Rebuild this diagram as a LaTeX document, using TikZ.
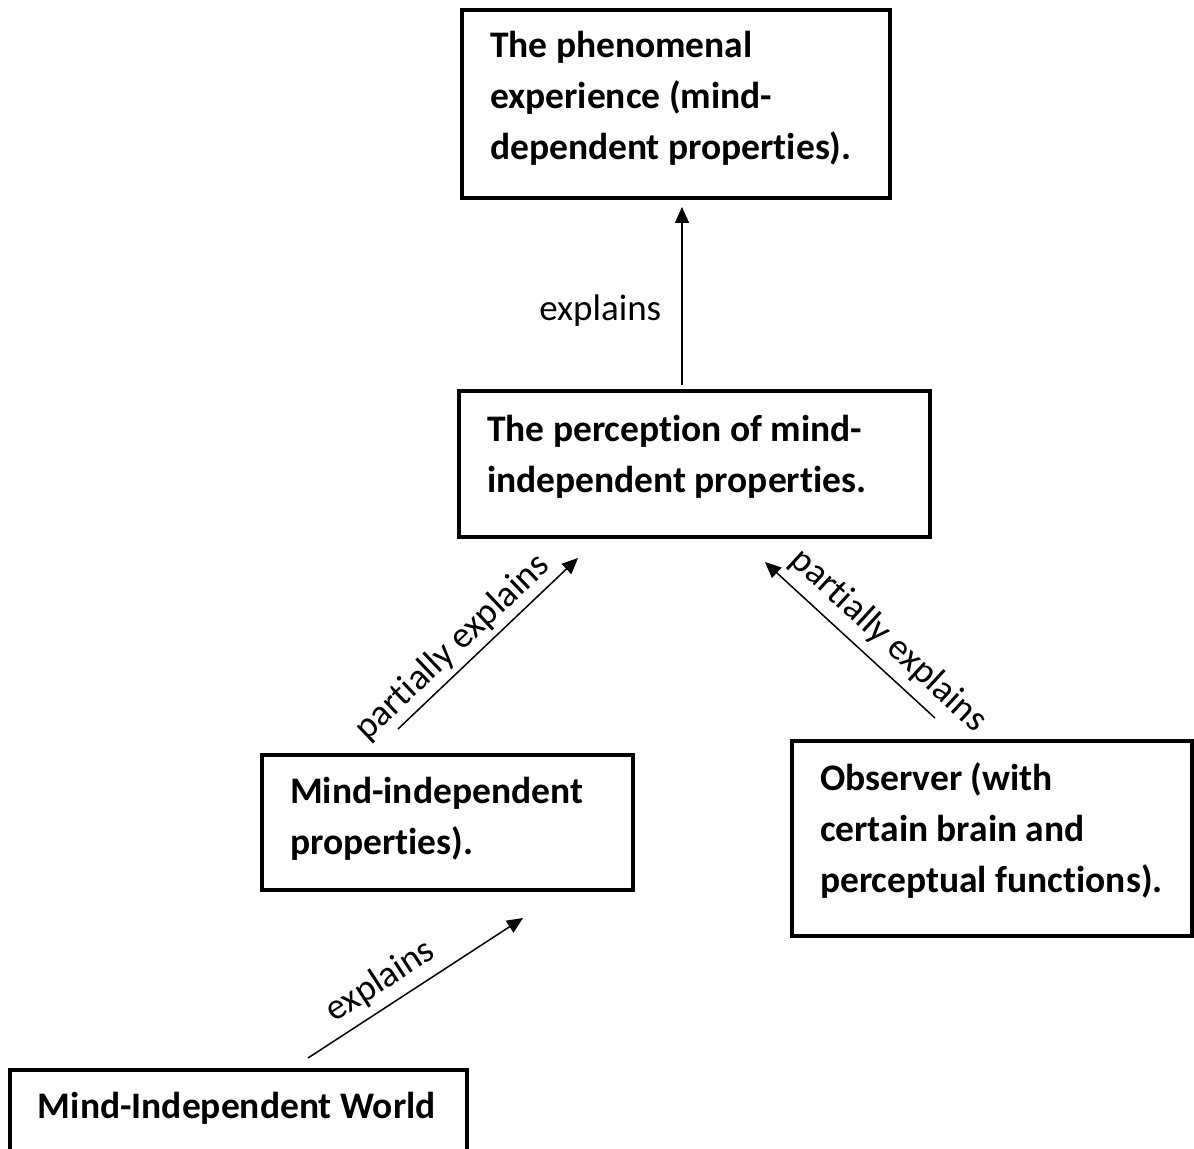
\documentclass[tikz,border=0pt]{standalone}
\usepackage{fontspec}
\setmainfont[Ligatures={NoCommon}]{Carlito}
\usetikzlibrary{arrows.meta}
\tikzset{
  box/.style={draw, line width=2pt, anchor=north west, inner ysep=0pt, inner xsep=14pt, outer sep=0pt,
    font=\bfseries\fontsize{18.75}{25.5}\selectfont},
  conn/.style={line width=0.75pt, -{Triangle[length=8pt,width=7pt]}},
  lbl/.style={inner sep=0pt, font=\fontsize{18.5}{22}\selectfont},
}
\newcommand\bxt[4]{\parbox[c][#1][t]{#2}{\raggedright\rule{0pt}{#3}#4}}
\begin{document}
\begin{tikzpicture}[x=0.5pt,y=-0.5pt]
\useasboundingbox (0,0) rectangle (1194,1149);
\clip (0,0) rectangle (1194,1149);
\node[box] (n1) at (462,10) {\bxt{94pt}{186pt}{24pt}{\mbox{The phenomenal}\\\mbox{experience (mind-}\\\mbox{dependent properties).}}};
\node[box] (n2) at (459,391) {\bxt{73pt}{207.5pt}{25.5pt}{\mbox{The perception of mind-}\\\mbox{independent properties.}}};
\node[box] (n3) at (262,755) {\bxt{67.5pt}{157.5pt}{24pt}{\mbox{Mind-independent}\\\mbox{properties).}}};
\node[box] (n4) at (792,741) {\bxt{97.5pt}{172pt}{24.5pt}{\mbox{Observer (with}\\\mbox{certain brain and}\\\mbox{perceptual functions).}}};
\node[box] (n5) at (10,1070) {\bxt{50pt}{200.5pt}{24pt}{\mbox{Mind-Independent World}}};
\coordinate (a1s) at (682,385);
\coordinate (a1e) at (682,207);
\coordinate (a2s) at (398,729);
\coordinate (a2e) at (578,558);
\coordinate (a3s) at (935,718);
\coordinate (a3e) at (765,562);
\coordinate (a4s) at (308,1058);
\coordinate (a4e) at (523,918);
\draw[conn] (a1s) -- node[lbl, pos=0.42, left=10pt] (l1) {explains} (a1e);
\draw[conn] (a2s) -- node[lbl, pos=0.385, sloped, above=2.5pt] (l2) {partially explains} (a2e);
\draw[conn] (a3s) -- node[lbl, pos=0.375, sloped, above=4.5pt] (l3) {partially explains} (a3e);
\draw[conn] (a4s) -- node[lbl, pos=0.4, sloped, above=4pt] (l4) {explains} (a4e);
\end{tikzpicture}
\end{document}
